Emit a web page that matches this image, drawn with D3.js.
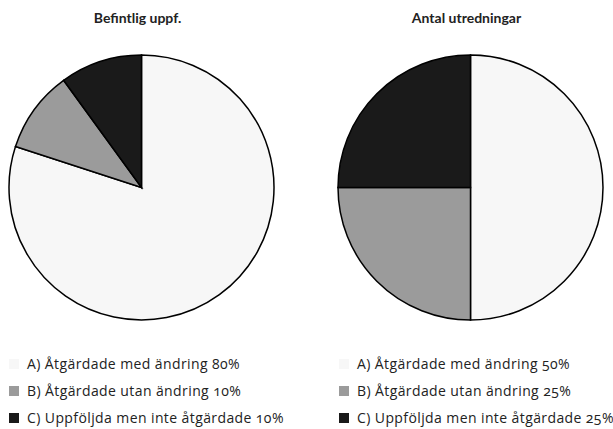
<!DOCTYPE html>
<html><head><meta charset="utf-8">
<script src="https://cdn.jsdelivr.net/npm/d3@7"></script>
<style>
body{margin:0;background:#fff;}
text{font-family:Lato,"Open Sans",sans-serif;font-variant-numeric:oldstyle-nums;font-feature-settings:"onum" 1;}
.lg text{font-family:"Open Sans",Lato,sans-serif;letter-spacing:0.4px;}
</style></head>
<body><svg id="c" width="613" height="429"></svg>
<script>
const titles = ["Befintlig uppf.", "Antal utredningar"];
const categories = ["A) Åtgärdade med ändring", "B) Åtgärdade utan ändring", "C) Uppföljda men inte åtgärdade"];
const seriesLeft = [80, 10, 10];
const seriesRight = [50, 25, 25];
const colors = ["#f7f7f7", "#9b9b9b", "#1a1a1a"];

const svg = d3.select("#c");
const color = d3.scaleOrdinal().domain(categories).range(colors);
const pie = d3.pie().sort(null);
const r = 132.5;
const arc = d3.arc().innerRadius(0).outerRadius(r);
const panels = [
  {cx: 141.5, title: titles[0], vals: seriesLeft, lx: 9},
  {cx: 470.5, title: titles[1], vals: seriesRight, lx: 339}
];
panels.forEach(p => {
  svg.append("text").attr("x", p.cx - 4).attr("y", 23).attr("text-anchor", "middle")
    .attr("font-weight", "bold").attr("font-size", 14).attr("fill", "#222").text(p.title);
  const g = svg.append("g").attr("transform", `translate(${p.cx},187.5)`);
  g.selectAll("path").data(pie(p.vals)).join("path")
    .attr("d", arc).attr("fill", (d, i) => color(categories[i]))
    .attr("stroke", "#000").attr("stroke-width", 1.5);
  const lg = svg.append("g").attr("class", "lg");
  categories.forEach((c, i) => {
    const y = 359 + i * 27;
    lg.append("rect").attr("x", p.lx).attr("y", y).attr("width", 10).attr("height", 10).attr("fill", colors[i]);
    lg.append("text").attr("x", p.lx + 18).attr("y", y + 10).attr("font-size", 14).attr("fill", "#222")
      .text(`${c} ${p.vals[i]}%`);
  });
});
</script></body></html>
